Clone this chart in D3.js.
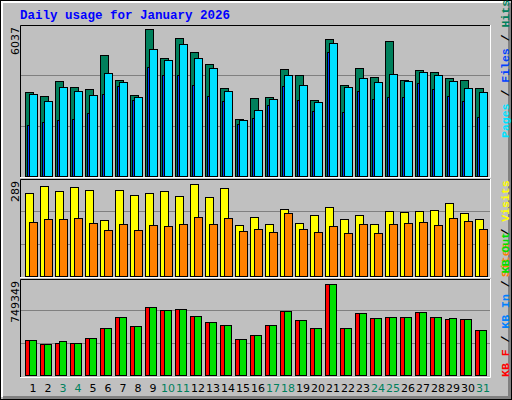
<!DOCTYPE html>
<html><head><meta charset="utf-8">
<script src="https://cdn.jsdelivr.net/npm/d3@7"></script>
<style>body{margin:0;background:#fff}svg{display:block}</style>
</head><body><div class="chart"></div>
<script>
const days = d3.range(1, 32);
const weekend = [3, 4, 10, 11, 17, 18, 24, 25, 31];
const hits = [3450,3286,3902,3655,3573,4969,3943,3327,6037,4846,5668,5093,4600,3614,2341,3203,3245,4394,4148,3121,5626,3737,4435,4066,5544,3943,4353,4271,4025,3943,3614];
const files = [3368,3080,3655,3491,3327,4230,3860,3244,5216,4764,5421,4846,4435,3491,2300,2711,3162,4148,3737,3039,5462,3655,4025,3860,4189,3902,4271,4148,3902,3614,3450];
const pages = [2095,2218,2300,2341,2587,3368,3696,3121,4477,4148,4148,3737,3286,3080,2136,2382,2916,3696,3121,2670,5093,2628,3491,3162,3245,3245,3820,3573,3286,3080,2423];
const visits = [261,283,267,280,270,176,270,254,261,267,251,289,248,276,160,185,166,213,169,194,217,179,194,166,204,201,204,210,229,198,179];
const sites = [172,179,179,182,169,147,163,147,160,157,166,188,163,182,144,150,138,198,150,141,157,135,163,135,166,169,172,160,182,175,150];
const kbF = [287266,260181,270000,268388,303681,385757,476040,402172,558115,533493,541700,484247,435002,410380,295473,328302,410380,525286,451418,385757,749349,385757,508870,467834,476040,476040,517078,476040,460000,459626,369340];
const kbIn = [3500,3300,3400,3400,3600,4100,4600,4200,5200,5000,5000,4700,4400,4300,3600,3800,4300,4900,4500,4100,6500,4100,4800,4600,4600,4600,4800,4600,4500,4500,4000];
const kbOut = [287266,260181,279058,268388,303681,385757,476040,402172,558115,533493,541700,484247,435002,410380,295473,328302,410380,525286,451418,385757,749349,385757,508870,467834,476040,476040,517078,476040,467834,459626,369340];

const W = 512, H = 400, mono = "'Liberation Mono','DejaVu Sans Mono',monospace";
const svg = d3.select(".chart").append("svg").attr("width", W).attr("height", H);

// frame
svg.append("rect").attr("x", 0.5).attr("y", 0.5).attr("width", W - 1).attr("height", H - 1).attr("fill", "#c0c0c0").attr("stroke", "#000");
svg.append("path").attr("d", `M2,${H-3}V2H${W-3}`).attr("fill", "none").attr("stroke", "#fff").attr("stroke-width", 2);
svg.append("path").attr("d", `M3,${H-2.5}H${W-2.5}V3`).attr("fill", "none").attr("stroke", "#808080").attr("stroke-width", 3);

svg.append("text").attr("x", 20).attr("y", 19).text("Daily usage for January 2026")
  .attr("font-family", mono).attr("font-weight", "bold").attr("font-size", 12.5).attr("fill", "#0000ff");

const x = d3.scaleLinear().domain([1, 31]).range([25, 475]);

const panels = [
  { top: 25, bottom: 177, y: d3.scaleLinear().domain([0, 6037]).range([176.5, 29]), label: "6037" },
  { top: 179, bottom: 277, y: d3.scaleLinear().domain([0, 289]).range([276.5, 184.3]), label: "289" },
  { top: 279, bottom: 377, y: d3.scaleLinear().domain([0, 749349]).range([375.5, 284]), label: "749349" }
];

panels.forEach(p => {
  svg.append("rect").attr("x", 20).attr("y", p.top).attr("width", 471).attr("height", p.bottom - p.top).attr("fill", "#c0c0c0");
  svg.append("path").attr("d", `M20.5,${p.bottom}V${p.top + 0.5}H491`).attr("fill", "none").attr("stroke", "#000");
  svg.append("path").attr("d", `M20,${p.bottom + 0.5}H490.5V${p.top}`).attr("fill", "none").attr("stroke", "#fff");
  const base = p.y(0), h = base - p.y.range()[1];
  [1, 2].forEach(k => {
    const gy = Math.round(base - (p.bottom - p.top) * k / 3) + 0.5;
    svg.append("line").attr("x1", 21).attr("x2", 490).attr("y1", gy).attr("y2", gy).attr("stroke", "#808080");
  });
  svg.append("text").attr("transform", `translate(19,${p.top + 2}) rotate(-90)`).attr("text-anchor", "end")
    .attr("font-family", "'DejaVu Sans',sans-serif").attr("font-size", 11).text(p.label);
});

function bars(panel, data, dx, w, color) {
  const y = panel.y;
  svg.append("g").selectAll("rect").data(data).join("rect")
    .attr("x", (d, i) => x(days[i]) + dx + 0.5)
    .attr("y", d => Math.round(y(d)) + 0.5)
    .attr("width", w)
    .attr("height", d => Math.max(0, y(0) - Math.round(y(d)) - 0.5))
    .attr("fill", color).attr("stroke", "#000").attr("stroke-width", 1);
}
bars(panels[0], hits, 0, 8, "#00805c");
bars(panels[0], files, 4, 8, "#00e0ff");
bars(panels[0], pages, 2, 2, "#0040ff");
bars(panels[1], visits, 0, 8, "#ffff00");
bars(panels[1], sites, 4, 8, "#ff8000");
bars(panels[2], kbF, 0, 8, "#ff0000");
bars(panels[2], kbOut, 4, 7, "#00e000");
bars(panels[2], kbIn, 2, 2, "#0080ff");

svg.append("g").selectAll("text").data(days).join("text")
  .attr("x", d => x(d) + 8).attr("y", 392).attr("text-anchor", "middle")
  .attr("font-family", "'DejaVu Sans',sans-serif").attr("font-size", 11)
  .attr("fill", d => weekend.includes(d) ? "#00805c" : "#000").text(d => d);

function sideLabel(yStart, parts) {
  const t = svg.append("text").attr("transform", `translate(509,${yStart}) rotate(-90)`)
    .attr("font-family", mono).attr("font-weight", "bold").attr("font-size", 11.5);
  parts.forEach(([s, c]) => t.append("tspan").attr("fill", c).text(s));
}
sideLabel(138, [["Pages", "#00e0ff"], [" / ", "#000"], ["Files", "#0040ff"], [" / ", "#000"], ["Hits", "#00805c"]]);
sideLabel(277, [["Sites", "#ff8000"], [" / ", "#000"], ["Visits", "#ffff00"]]);
sideLabel(377, [["KB F", "#ff0000"], [" / ", "#000"], ["KB In", "#0080ff"], [" / ", "#000"], ["KB Out", "#00e000"]]);
</script></body></html>
